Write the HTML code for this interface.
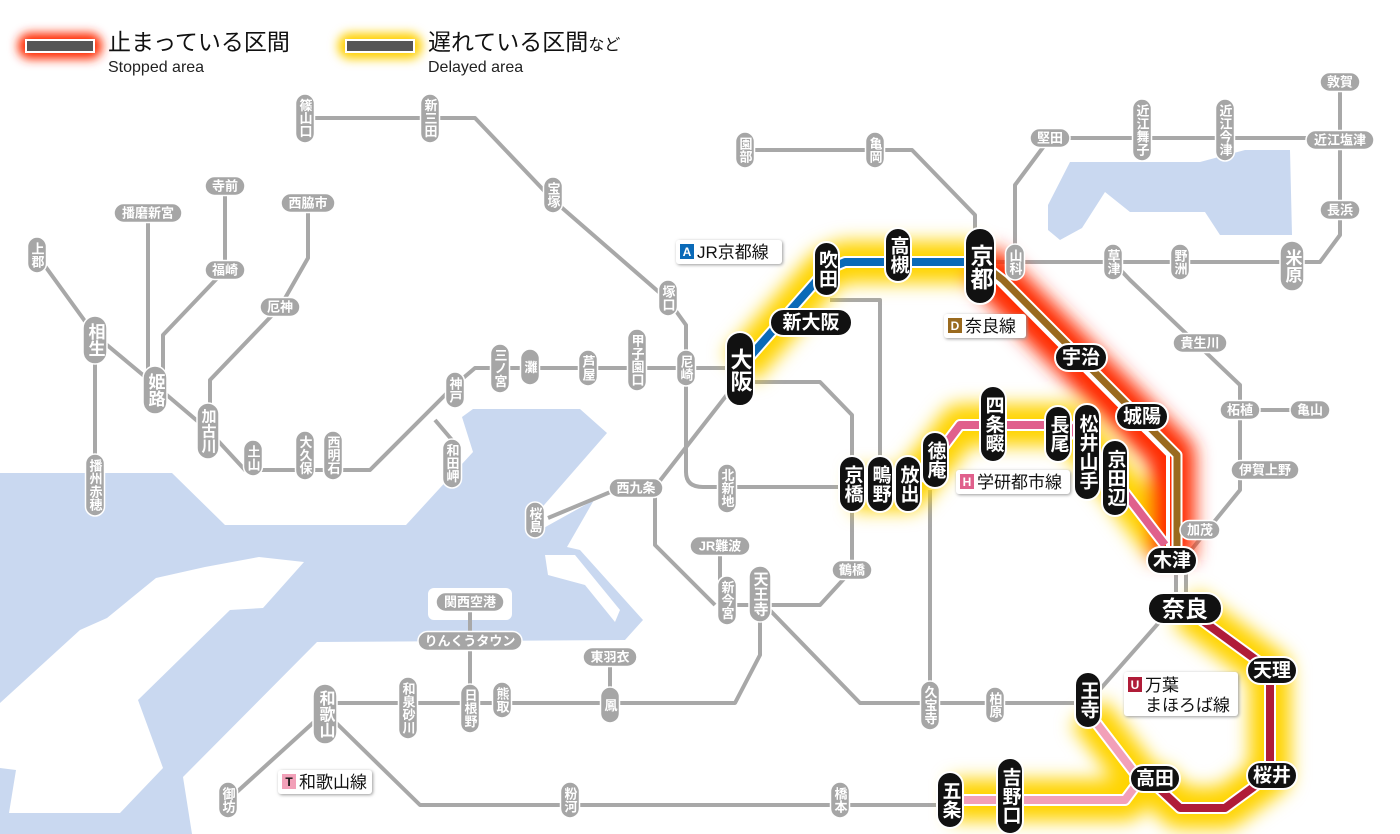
<!DOCTYPE html>
<html><head><meta charset="utf-8"><style>
html,body{margin:0;padding:0;background:#fff;}
svg{display:block;font-family:"Liberation Sans","Noto Sans CJK JP",sans-serif;}
.v{writing-mode:vertical-rl;text-orientation:upright;text-anchor:middle;}
.g rect{fill:#a6a6a6;stroke:#fff;stroke-width:1.5;}
.g text{fill:#fff;font-size:13px;font-weight:bold;}
.b rect{fill:#111;stroke:#fff;stroke-width:2;}
.b text{fill:#fff;font-size:19px;font-weight:bold;}
.h{text-anchor:middle;dominant-baseline:central;}
.ln{fill:none;stroke:#a8a8a8;stroke-width:4;stroke-linejoin:round;}
</style></head><body>
<svg width="1400" height="834" viewBox="0 0 1400 834" xmlns="http://www.w3.org/2000/svg">
<defs>
<filter id="bl" x="-20%" y="-20%" width="140%" height="140%"><feGaussianBlur stdDeviation="9"/></filter>
<filter id="bl2" x="-50%" y="-50%" width="200%" height="200%"><feGaussianBlur stdDeviation="5"/></filter>
<filter id="sh"><feDropShadow dx="1" dy="1" stdDeviation="1.5" flood-color="#999"/></filter>
</defs>

<!-- water -->
<path d="M0 473 L172 473 L225 525 L406 525 L473 452 L462 417 L473 409 L580 409 L607 433 L531 520 L540 530 L594 500 L567 547 L580 550 L643 620 L625 640 L317 642 L183 777 L192 834 L0 834 Z" fill="#c9d8f0"/>
<path d="M259 557 L304 562 L263 608 L230 610 L138 700 L163 768 L120 813 L9 813 L16 770 L0 768 L0 703 L80 630 L107 618 L156 578 L205 567 Z" fill="#fff"/>
<path d="M545 555 L575 555 L620 610 L615 622 L585 585 L548 575 Z" fill="#fff"/>
<rect x="428" y="588" width="84" height="32" rx="6" fill="#fff"/>
<path d="M1048 205 L1070 162 L1200 162 L1245 150 L1290 150 L1292 235 L1220 235 L1205 212 L1130 212 L1105 192 L1082 228 L1060 240 L1048 230 Z" fill="#c9d8f0"/>

<!-- legend -->
<rect x="18" y="33" width="84" height="26" rx="12" fill="#ff2a00" filter="url(#bl2)"/>
<rect x="26" y="40" width="68" height="12" fill="#555" stroke="#fff" stroke-width="2"/>
<text x="108" y="50" font-size="23" fill="#111">止まっている区間</text>
<text x="108" y="72" font-size="16" fill="#222">Stopped area</text>
<rect x="338" y="33" width="84" height="26" rx="12" fill="#ffd000" filter="url(#bl2)"/>
<rect x="346" y="40" width="68" height="12" fill="#555" stroke="#fff" stroke-width="2"/>
<text x="428" y="50" font-size="23" fill="#111">遅れている区間<tspan font-size="16">など</tspan></text>
<text x="428" y="72" font-size="16" fill="#222">Delayed area</text>

<!-- gray lines -->
<g class="ln">
<path d="M305 118 H475 L553 200 L668 300 L686 325 V472 Q686 487 703 487 H852"/>
<path d="M740 368 H475 L455 385 L370 470 H245 L208 430 L155 385 L95 335 L37 255"/>
<path d="M148 213 V390"/>
<path d="M225 186 V270 L163 335 V390"/>
<path d="M308 203 V258 L280 307 L210 380 V440"/>
<path d="M95 340 V485"/>
<path d="M435 420 L452 440 V465"/>
<path d="M745 150 H912 L975 215 V262"/>
<path d="M980 262 H1320 L1340 235 V80"/>
<path d="M1015 262 V185 L1050 138 H1340"/>
<path d="M1113 262 L1130 280 L1240 385 V490 L1183 560"/>
<path d="M1240 410 H1310"/>
<path d="M740 382 H820 L852 415 V570 L820 605 H727"/>
<path d="M740 378 L655 487 V545 L715 605"/>
<path d="M636 488 H620 L548 518"/>
<path d="M720 546 V590 L727 605"/>
<path d="M830 300 H880 V480"/>
<path d="M930 490 V703"/>
<path d="M760 600 L860 703 H1088 L1170 610"/>
<path d="M760 600 V655 L735 703 H325"/>
<path d="M610 657 V705"/>
<path d="M470 602 V705"/>
<path d="M325 712 L228 800"/>
<path d="M325 712 L420 805 H950"/>
<path d="M1176 560 V608"/>
<path d="M1186 560 V608"/>
</g>

<!-- glows -->
<g fill="none" stroke-linejoin="round" filter="url(#bl)">
<path d="M740 368 L826 270 L845 262 H980" stroke="#ffd400" stroke-width="42"/>
<path d="M852 490 H908 L935 458 L960 425 H1068 L1115 480 L1165 545" stroke="#ffd400" stroke-width="42"/>
<path d="M1185 608 L1270 670 V775 L1225 808 H1180 L1150 780" stroke="#ffd400" stroke-width="42"/>
<path d="M950 800 H1125 L1140 780 L1088 712" stroke="#ffd400" stroke-width="42"/>
<path d="M980 262 L998 280 L1172 455 V560" stroke="#ff2a00" stroke-width="46"/>
</g>
<!-- colored lines -->
<g fill="none" stroke-linejoin="round">
<path d="M740 368 L826 270 L845 262 H980" stroke="#fff" stroke-width="12"/>
<path d="M740 368 L826 270 L845 262 H980" stroke="#0a6ab8" stroke-width="8"/>
<path d="M980 262 L995 280 L1168 455 V560" stroke="#fff" stroke-width="4"/>
<path d="M980 262 L1003 280 L1177 455 V560" stroke="#fff" stroke-width="11"/>
<path d="M980 262 L1003 280 L1177 455 V560" stroke="#9a6a1e" stroke-width="7"/>
<path d="M852 490 H908 L935 458 L960 425 H1068 L1115 480 L1165 545" stroke="#fff" stroke-width="12"/>
<path d="M852 490 H908 L935 458 L960 425 H1068 L1115 480 L1165 545" stroke="#e0608c" stroke-width="8"/>
<path d="M1185 608 L1270 670 V775 L1225 808 H1180 L1150 780" stroke="#fff" stroke-width="12"/>
<path d="M1185 608 L1270 670 V775 L1225 808 H1180 L1150 780" stroke="#b01c38" stroke-width="8"/>
<path d="M950 800 H1125 L1140 780 L1088 712" stroke="#fff" stroke-width="12"/>
<path d="M950 800 H1125 L1140 780 L1088 712" stroke="#f2a0b8" stroke-width="8"/>
</g>

<!-- line labels -->
<g filter="url(#sh)">
<rect x="676" y="240" width="106" height="24" rx="3" fill="#fff"/>
<rect x="944" y="314" width="82" height="24" rx="3" fill="#fff"/>
<rect x="956" y="470" width="114" height="24" rx="3" fill="#fff"/>
<rect x="1124" y="672" width="114" height="44" rx="3" fill="#fff"/>
<rect x="278" y="770" width="94" height="24" rx="3" fill="#fff"/>
</g>
<rect x="680" y="244" width="14" height="15" fill="#0a6ab8"/><text x="687" y="256" font-size="12" fill="#fff" text-anchor="middle" font-weight="bold">A</text>
<text x="697" y="258" font-size="17" fill="#111">JR京都線</text>
<rect x="948" y="318" width="14" height="15" fill="#9a6a1e"/><text x="955" y="330" font-size="12" fill="#fff" text-anchor="middle" font-weight="bold">D</text>
<text x="965" y="332" font-size="17" fill="#111">奈良線</text>
<rect x="960" y="474" width="14" height="15" fill="#e0608c"/><text x="967" y="486" font-size="12" fill="#fff" text-anchor="middle" font-weight="bold">H</text>
<text x="977" y="488" font-size="17" fill="#111">学研都市線</text>
<rect x="1128" y="677" width="14" height="15" fill="#b01c38"/><text x="1135" y="689" font-size="12" fill="#fff" text-anchor="middle" font-weight="bold">U</text>
<text x="1145" y="691" font-size="17" fill="#111">万葉</text>
<text x="1145" y="711" font-size="17" fill="#111">まほろば線</text>
<rect x="282" y="774" width="14" height="15" fill="#f2a0b8"/><text x="289" y="786" font-size="12" fill="#111" text-anchor="middle" font-weight="bold">T</text>
<text x="299" y="788" font-size="17" fill="#111">和歌山線</text>

<!-- gray stations vertical -->
<g class="g">
<rect x="295.5" y="94" width="19" height="49" rx="9.5"/><text class="v" x="305" y="118">篠山口</text>
<rect x="420.5" y="94" width="19" height="49" rx="9.5"/><text class="v" x="430" y="118">新三田</text>
<rect x="543.5" y="177" width="19" height="36" rx="9.5"/><text class="v" x="553" y="195">宝塚</text>
<rect x="658.5" y="280" width="19" height="36" rx="9.5"/><text class="v" x="668" y="298">塚口</text>
<rect x="676.5" y="350" width="19" height="36" rx="9.5"/><text class="v" x="686" y="368">尼崎</text>
<rect x="627.5" y="329" width="19" height="62" rx="9.5"/><text class="v" x="637" y="360">甲子園口</text>
<rect x="578.5" y="350" width="19" height="36" rx="9.5"/><text class="v" x="588" y="368">芦屋</text>
<rect x="520.5" y="349" width="19" height="36" rx="9.5"/><text class="v" x="530" y="367">灘</text>
<rect x="490.5" y="344" width="19" height="49" rx="9.5"/><text class="v" x="500" y="368">三ノ宮</text>
<rect x="445.5" y="372" width="19" height="36" rx="9.5"/><text class="v" x="455" y="390">神戸</text>
<rect x="442.5" y="439" width="19" height="49" rx="9.5"/><text class="v" x="452" y="463">和田岬</text>
<rect x="323.5" y="431" width="19" height="49" rx="9.5"/><text class="v" x="333" y="455">西明石</text>
<rect x="295.5" y="431" width="19" height="49" rx="9.5"/><text class="v" x="305" y="455">大久保</text>
<rect x="243.5" y="440" width="19" height="36" rx="9.5"/><text class="v" x="253" y="458">土山</text>
<rect x="197" y="403" width="22" height="56" rx="11"/><text class="v" x="208" y="431" style="font-size:15px">加古川</text>
<rect x="143" y="366" width="24" height="48" rx="12"/><text class="v" x="155" y="390" style="font-size:17px">姫路</text>
<rect x="83" y="316" width="24" height="48" rx="12"/><text class="v" x="95" y="340" style="font-size:17px">相生</text>
<rect x="27.5" y="237" width="19" height="36" rx="9.5"/><text class="v" x="37" y="255">上郡</text>
<rect x="85.5" y="454" width="19" height="62" rx="9.5"/><text class="v" x="95" y="485">播州赤穂</text>
<rect x="717.5" y="464" width="19" height="49" rx="9.5"/><text class="v" x="727" y="488">北新地</text>
<rect x="525.5" y="502" width="19" height="36" rx="9.5"/><text class="v" x="535" y="520">桜島</text>
<rect x="717.5" y="576" width="19" height="49" rx="9.5"/><text class="v" x="727" y="600">新今宮</text>
<rect x="749" y="566" width="22" height="56" rx="11"/><text class="v" x="760" y="594" style="font-size:15px">天王寺</text>
<rect x="920.5" y="681" width="19" height="49" rx="9.5"/><text class="v" x="930" y="705">久宝寺</text>
<rect x="985.5" y="687" width="19" height="36" rx="9.5"/><text class="v" x="995" y="705">柏原</text>
<rect x="313" y="684" width="24" height="60" rx="12"/><text class="v" x="325" y="714" style="font-size:16px">和歌山</text>
<rect x="398.5" y="677" width="19" height="62" rx="9.5"/><text class="v" x="408" y="708">和泉砂川</text>
<rect x="460.5" y="684" width="19" height="49" rx="9.5"/><text class="v" x="470" y="708">日根野</text>
<rect x="492.5" y="682" width="19" height="36" rx="9.5"/><text class="v" x="502" y="700">熊取</text>
<rect x="600.5" y="687" width="19" height="36" rx="9.5"/><text class="v" x="610" y="705">鳳</text>
<rect x="218.5" y="782" width="19" height="36" rx="9.5"/><text class="v" x="228" y="800">御坊</text>
<rect x="560.5" y="782" width="19" height="36" rx="9.5"/><text class="v" x="570" y="800">粉河</text>
<rect x="830.5" y="782" width="19" height="36" rx="9.5"/><text class="v" x="840" y="800">橋本</text>
<rect x="735.5" y="132" width="19" height="36" rx="9.5"/><text class="v" x="745" y="150">園部</text>
<rect x="865.5" y="132" width="19" height="36" rx="9.5"/><text class="v" x="875" y="150">亀岡</text>
<rect x="1005.5" y="244" width="19" height="36" rx="9.5"/><text class="v" x="1015" y="262">山科</text>
<rect x="1103.5" y="244" width="19" height="36" rx="9.5"/><text class="v" x="1113" y="262">草津</text>
<rect x="1170.5" y="244" width="19" height="36" rx="9.5"/><text class="v" x="1180" y="262">野洲</text>
<rect x="1280" y="241" width="24" height="50" rx="12"/><text class="v" x="1292" y="266" style="font-size:17px">米原</text>
<rect x="1132.5" y="99" width="19" height="62" rx="9.5"/><text class="v" x="1142" y="130">近江舞子</text>
<rect x="1215.5" y="99" width="19" height="62" rx="9.5"/><text class="v" x="1225" y="130">近江今津</text>
</g>
<!-- gray stations horizontal -->
<g class="g">
<rect x="205" y="176.5" width="40" height="19" rx="9.5"/><text class="h" x="225" y="186">寺前</text>
<rect x="114" y="203.5" width="68" height="19" rx="9.5"/><text class="h" x="148" y="213">播磨新宮</text>
<rect x="281" y="193.5" width="54" height="19" rx="9.5"/><text class="h" x="308" y="203">西脇市</text>
<rect x="205" y="260.5" width="40" height="19" rx="9.5"/><text class="h" x="225" y="270">福崎</text>
<rect x="260" y="297.5" width="40" height="19" rx="9.5"/><text class="h" x="280" y="307">厄神</text>
<rect x="609" y="478.5" width="54" height="19" rx="9.5"/><text class="h" x="636" y="488">西九条</text>
<rect x="690" y="536.5" width="60" height="19" rx="9.5"/><text class="h" x="720" y="546">JR難波</text>
<rect x="832" y="560.5" width="40" height="19" rx="9.5"/><text class="h" x="852" y="570">鶴橋</text>
<rect x="436" y="592.5" width="68" height="19" rx="9.5"/><text class="h" x="470" y="602">関西空港</text>
<rect x="418" y="631.5" width="104" height="19" rx="9.5"/><text class="h" x="470" y="641">りんくうタウン</text>
<rect x="583" y="647.5" width="54" height="19" rx="9.5"/><text class="h" x="610" y="657">東羽衣</text>
<rect x="1030" y="128.5" width="40" height="19" rx="9.5"/><text class="h" x="1050" y="138">堅田</text>
<rect x="1306" y="130.5" width="68" height="19" rx="9.5"/><text class="h" x="1340" y="140">近江塩津</text>
<rect x="1320" y="72.5" width="40" height="19" rx="9.5"/><text class="h" x="1340" y="82">敦賀</text>
<rect x="1320" y="200.5" width="40" height="19" rx="9.5"/><text class="h" x="1340" y="210">長浜</text>
<rect x="1173" y="333.5" width="54" height="19" rx="9.5"/><text class="h" x="1200" y="343">貴生川</text>
<rect x="1220" y="400.5" width="40" height="19" rx="9.5"/><text class="h" x="1240" y="410">柘植</text>
<rect x="1290" y="400.5" width="40" height="19" rx="9.5"/><text class="h" x="1310" y="410">亀山</text>
<rect x="1231" y="460.5" width="68" height="19" rx="9.5"/><text class="h" x="1265" y="470">伊賀上野</text>
<rect x="1180" y="520.5" width="40" height="19" rx="9.5"/><text class="h" x="1200" y="530">加茂</text>
</g>

<!-- black stations -->
<g class="b">
<rect x="726" y="332" width="28" height="74" rx="14"/><text class="v" x="740" y="370" style="font-size:22px">大阪</text>
<rect x="770" y="309" width="82" height="27" rx="13.5"/><text class="h" x="811" y="323">新大阪</text>
<rect x="814" y="242" width="25" height="54" rx="12.5"/><text class="v" x="826.5" y="269">吹田</text>
<rect x="885" y="228" width="26" height="54" rx="13"/><text class="v" x="898" y="255">高槻</text>
<rect x="965" y="228" width="30" height="76" rx="15"/><text class="v" x="980" y="267" style="font-size:23px">京都</text>
<rect x="1055" y="344" width="52" height="27" rx="13.5"/><text class="h" x="1081" y="358">宇治</text>
<rect x="1116" y="403" width="52" height="27" rx="13.5"/><text class="h" x="1142" y="417">城陽</text>
<rect x="1147" y="547" width="50" height="27" rx="13.5"/><text class="h" x="1172" y="561">木津</text>
<rect x="1148" y="593" width="74" height="31" rx="15.5"/><text class="h" x="1185" y="609" style="font-size:23px">奈良</text>
<rect x="1247" y="657" width="50" height="27" rx="13.5"/><text class="h" x="1272" y="671">天理</text>
<rect x="1247" y="762" width="50" height="27" rx="13.5"/><text class="h" x="1272" y="776">桜井</text>
<rect x="1130" y="765" width="50" height="27" rx="13.5"/><text class="h" x="1155" y="779">高田</text>
<rect x="1075" y="672" width="26" height="56" rx="13"/><text class="v" x="1088" y="700">王寺</text>
<rect x="997" y="758" width="26" height="76" rx="13"/><text class="v" x="1010" y="796">吉野口</text>
<rect x="937" y="772" width="26" height="56" rx="13"/><text class="v" x="950" y="800">五条</text>
<rect x="839" y="456" width="26" height="56" rx="13"/><text class="v" x="852" y="484">京橋</text>
<rect x="867" y="456" width="26" height="56" rx="13"/><text class="v" x="880" y="484">鴫野</text>
<rect x="895" y="456" width="26" height="56" rx="13"/><text class="v" x="908" y="484">放出</text>
<rect x="922" y="432" width="26" height="56" rx="13"/><text class="v" x="935" y="460">徳庵</text>
<rect x="980" y="386" width="26" height="76" rx="13"/><text class="v" x="993" y="424">四条畷</text>
<rect x="1045" y="406" width="26" height="56" rx="13"/><text class="v" x="1058" y="434">長尾</text>
<rect x="1074" y="404" width="26" height="96" rx="13"/><text class="v" x="1087" y="452">松井山手</text>
<rect x="1102" y="440" width="26" height="76" rx="13"/><text class="v" x="1115" y="478">京田辺</text>
</g>
</svg>
</body></html>
